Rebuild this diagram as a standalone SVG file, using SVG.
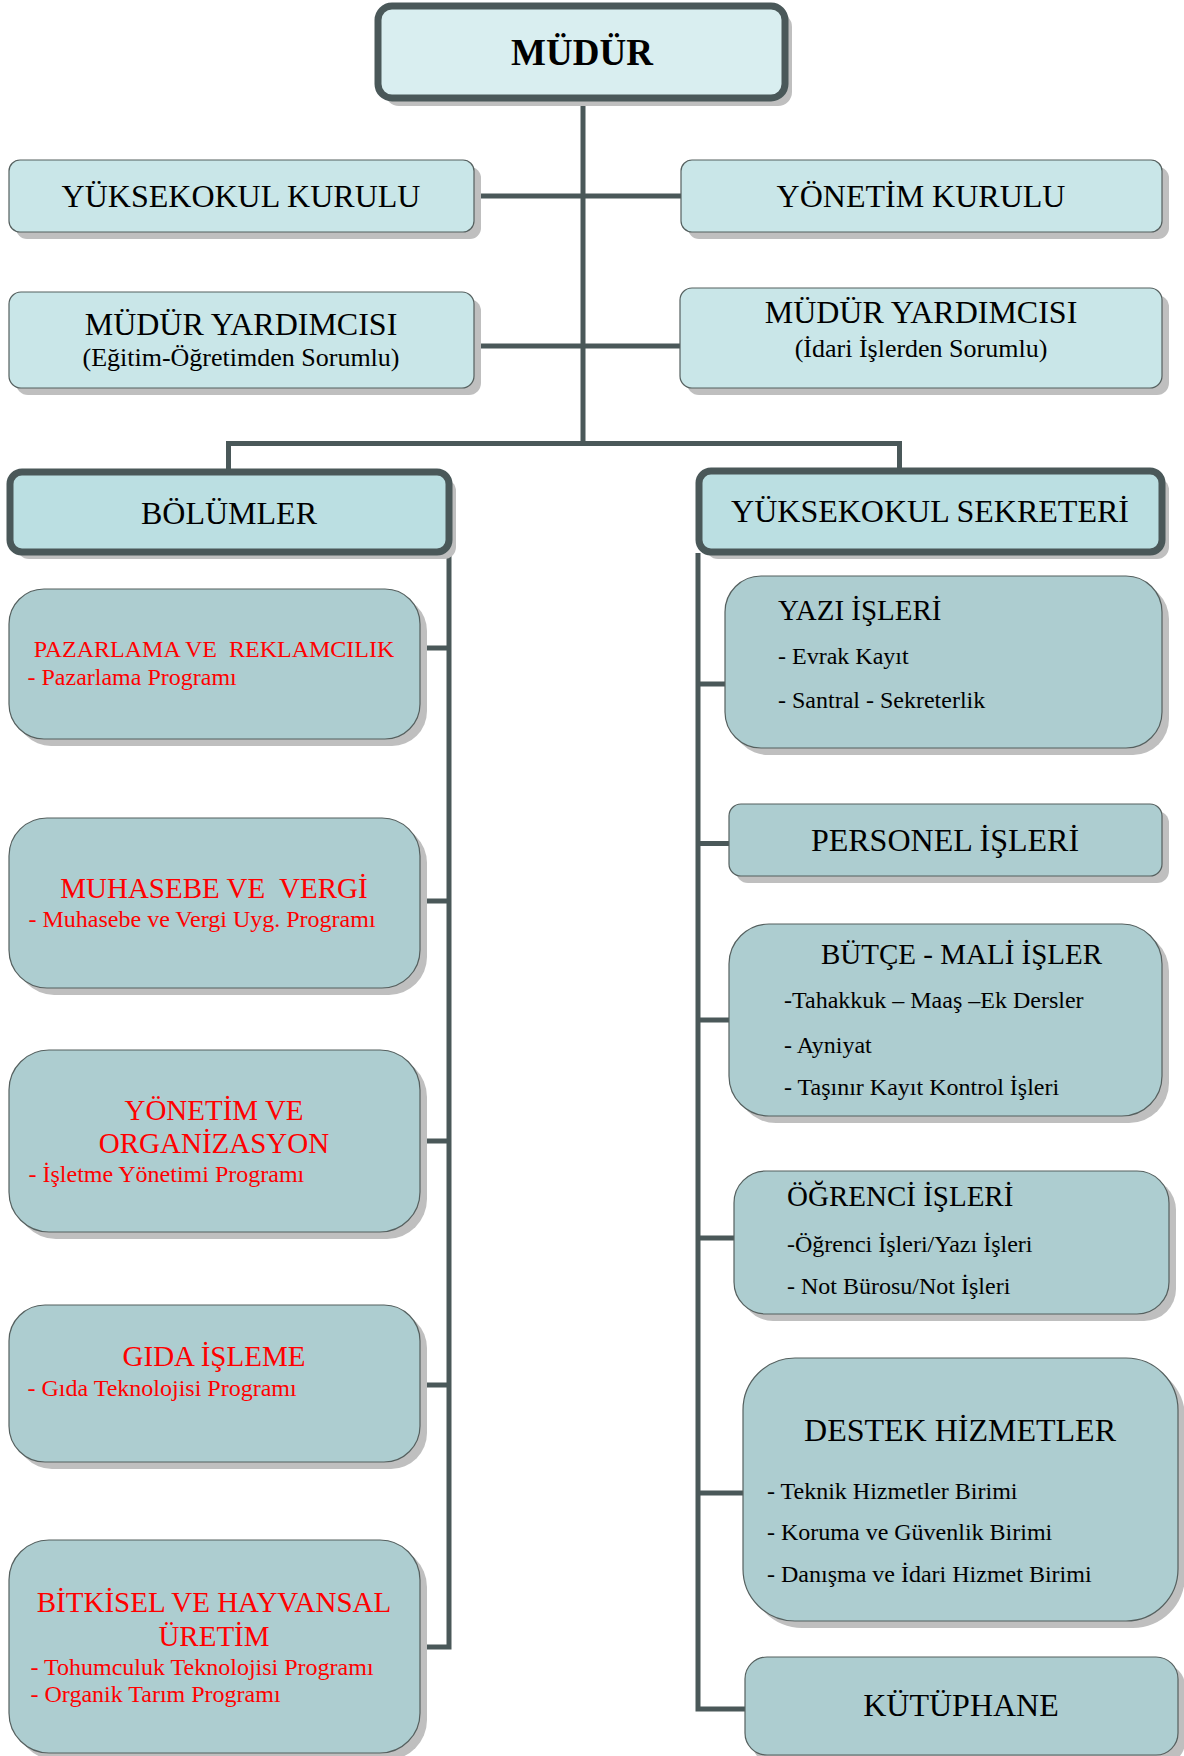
<svg xmlns="http://www.w3.org/2000/svg" width="1184" height="1756" viewBox="0 0 1184 1756">
<style>
.bg{fill:#ffffff}
.sh{fill:#bfbfbf}
.thick{stroke:#4a5859;stroke-width:7}
.thin{stroke:#55605f;stroke-width:1.2}
.f1{fill:#d9eef0}
.f2{fill:#c9e6e8}
.f3{fill:#bbdfe2}
.f4{fill:#adcdd0}
.conn{fill:none;stroke:#4a5859;stroke-width:5}
text{font-family:"Liberation Serif","Times New Roman",serif;fill:#000000;white-space:pre}
.r{fill:#ff0000}
.c{text-anchor:middle}
.s32{font-size:32px}
.s29{font-size:29px}
.s26{font-size:26px}
.s24{font-size:24px}
</style>
<rect class="bg" x="0" y="0" width="1184" height="1756"/>
<g id="connectors">
<path class="conn" d="M583 102V443.5"/>
<path class="conn" d="M474 196H681"/>
<path class="conn" d="M474 346H680"/>
<path class="conn" d="M228.5 472V443.5H899.5V470"/>
<path class="conn" d="M449 553V1647H420"/>
<path class="conn" d="M420 648H449M420 901H449M420 1141H449M420 1385H449"/>
<path class="conn" d="M698 553V1709H745"/>
<path class="conn" d="M698 684H725M698 843.5H729M698 1020H729M698 1238H734M698 1493H743"/>
</g>
<g id="mudur">
<rect class="sh" x="385" y="13" width="407" height="93" rx="14"/>
<rect class="f1 thick" x="378" y="6" width="407" height="92" rx="14"/>
<text class="c" x="582" y="65" style="font-size:37px;font-weight:bold">MÜDÜR</text>
</g>
<g id="yuksekokul-kurulu">
<rect class="sh" x="16" y="167" width="465" height="72" rx="11"/>
<rect class="f2 thin" x="9" y="160" width="465" height="72" rx="11"/>
<text class="c s32" x="241" y="207">YÜKSEKOKUL KURULU</text>
</g>
<g id="yonetim-kurulu">
<rect class="sh" x="688" y="167" width="481" height="72" rx="11"/>
<rect class="f2 thin" x="681" y="160" width="481" height="72" rx="11"/>
<text class="c s32" x="921" y="207">YÖNETİM KURULU</text>
</g>
<g id="mudur-yardimcisi-egitim">
<rect class="sh" x="16" y="299" width="465" height="96" rx="12"/>
<rect class="f2 thin" x="9" y="292" width="465" height="96" rx="12"/>
<text class="c s32" x="241" y="335">MÜDÜR YARDIMCISI</text>
<text class="c s26" x="241" y="366">(Eğitim-Öğretimden Sorumlu)</text>
</g>
<g id="mudur-yardimcisi-idari">
<rect class="sh" x="687" y="295" width="482" height="100" rx="12"/>
<rect class="f2 thin" x="680" y="288" width="482" height="100" rx="12"/>
<text class="c s32" x="921" y="323">MÜDÜR YARDIMCISI</text>
<text class="c s26" x="921" y="357">(İdari İşlerden Sorumlu)</text>
</g>
<g id="bolumler">
<rect class="sh" x="17" y="479" width="439" height="80" rx="12"/>
<rect class="f3 thick" x="10" y="472" width="439" height="80" rx="12"/>
<text class="c s32" x="229" y="524">BÖLÜMLER</text>
</g>
<g id="pazarlama">
<rect class="sh" x="16" y="596" width="411" height="150" rx="35"/>
<rect class="f4 thin" x="9" y="589" width="411" height="150" rx="35"/>
<text class="c s24 r" x="214" y="657">PAZARLAMA VE  REKLAMCILIK</text>
<text class="s24 r" x="27.5" y="685">- Pazarlama Programı</text>
</g>
<g id="muhasebe">
<rect class="sh" x="16" y="825" width="411" height="170" rx="38"/>
<rect class="f4 thin" x="9" y="818" width="411" height="170" rx="38"/>
<text class="c s29 r" x="214" y="898">MUHASEBE VE  VERGİ</text>
<text class="s24 r" x="28.5" y="927">- Muhasebe ve Vergi Uyg. Programı</text>
</g>
<g id="yonetim-organizasyon">
<rect class="sh" x="16" y="1057" width="411" height="182" rx="40"/>
<rect class="f4 thin" x="9" y="1050" width="411" height="182" rx="40"/>
<text class="c s29 r" x="214" y="1120">YÖNETİM VE</text>
<text class="c s29 r" x="214" y="1153">ORGANİZASYON</text>
<text class="s24 r" x="28.5" y="1182">- İşletme Yönetimi Programı</text>
</g>
<g id="gida">
<rect class="sh" x="16" y="1312" width="411" height="157" rx="36"/>
<rect class="f4 thin" x="9" y="1305" width="411" height="157" rx="36"/>
<text class="c s29 r" x="214" y="1366">GIDA İŞLEME</text>
<text class="s24 r" x="27.5" y="1396">- Gıda Teknolojisi Programı</text>
</g>
<g id="bitkisel">
<rect class="sh" x="16" y="1547" width="411" height="213" rx="40"/>
<rect class="f4 thin" x="9" y="1540" width="411" height="213" rx="40"/>
<text class="c s29 r" x="214" y="1612">BİTKİSEL VE HAYVANSAL</text>
<text class="c s29 r" x="214" y="1646">ÜRETİM</text>
<text class="s24 r" x="30.5" y="1675">- Tohumculuk Teknolojisi Programı</text>
<text class="s24 r" x="30.5" y="1702">- Organik Tarım Programı</text>
</g>
<g id="sekreter">
<rect class="sh" x="706" y="478" width="463" height="81" rx="12"/>
<rect class="f3 thick" x="699" y="471" width="463" height="81" rx="12"/>
<text class="c s32" x="930" y="522">YÜKSEKOKUL SEKRETERİ</text>
</g>
<g id="yazi-isleri">
<rect class="sh" x="732" y="583" width="437" height="172" rx="36"/>
<rect class="f4 thin" x="725" y="576" width="437" height="172" rx="36"/>
<text class="s29" x="778" y="620">YAZI İŞLERİ</text>
<text class="s24" x="778" y="664">- Evrak Kayıt</text>
<text class="s24" x="778" y="708">- Santral - Sekreterlik</text>
</g>
<g id="personel">
<rect class="sh" x="736" y="811" width="433" height="72" rx="12"/>
<rect class="f4 thin" x="729" y="804" width="433" height="72" rx="12"/>
<text class="c s32" x="945" y="851">PERSONEL İŞLERİ</text>
</g>
<g id="butce">
<rect class="sh" x="736" y="931" width="433" height="192" rx="40"/>
<rect class="f4 thin" x="729" y="924" width="433" height="192" rx="40"/>
<text class="s29" x="821" y="964">BÜTÇE - MALİ İŞLER</text>
<text class="s24" x="784" y="1008">-Tahakkuk – Maaş –Ek Dersler</text>
<text class="s24" x="784" y="1053">- Ayniyat</text>
<text class="s24" x="784" y="1095">- Taşınır Kayıt Kontrol İşleri</text>
</g>
<g id="ogrenci">
<rect class="sh" x="741" y="1178" width="435" height="143" rx="32"/>
<rect class="f4 thin" x="734" y="1171" width="435" height="143" rx="32"/>
<text class="s29" x="787" y="1206">ÖĞRENCİ İŞLERİ</text>
<text class="s24" x="787" y="1252">-Öğrenci İşleri/Yazı İşleri</text>
<text class="s24" x="787" y="1294">- Not Bürosu/Not İşleri</text>
</g>
<g id="destek">
<rect class="sh" x="750" y="1365" width="435" height="263" rx="52"/>
<rect class="f4 thin" x="743" y="1358" width="435" height="263" rx="52"/>
<text class="c s32" x="960" y="1441">DESTEK HİZMETLER</text>
<text class="s24" x="767" y="1499">- Teknik Hizmetler Birimi</text>
<text class="s24" x="767" y="1540">- Koruma ve Güvenlik Birimi</text>
<text class="s24" x="767" y="1582">- Danışma ve İdari Hizmet Birimi</text>
</g>
<g id="kutuphane">
<rect class="sh" x="752" y="1664" width="433" height="100" rx="22"/>
<rect class="f4 thin" x="745" y="1657" width="433" height="98" rx="22"/>
<text class="c s32" x="961" y="1716">KÜTÜPHANE</text>
</g>
</svg>
